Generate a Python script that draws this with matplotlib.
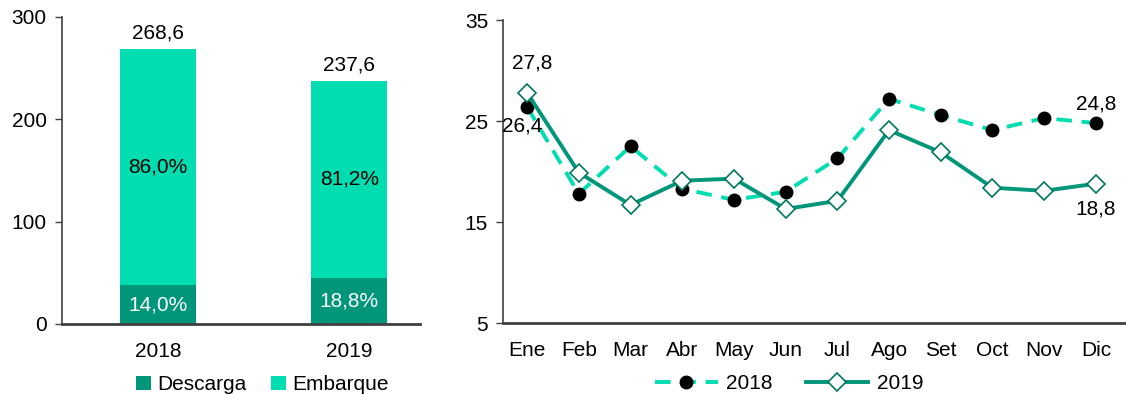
import numpy as np
import matplotlib.pyplot as plt

plt.rcParams['font.family'] = ['Liberation Sans', 'DejaVu Sans']
plt.rcParams['font.size'] = 15

# stacked bars: totals and share of each operation
years = ['2018', '2019']
totals = [268.6, 237.6]
pct_descarga = [14.0, 18.8]
pct_embarque = [86.0, 81.2]

# monthly series
months = ['Ene', 'Feb', 'Mar', 'Abr', 'May', 'Jun', 'Jul', 'Ago', 'Set', 'Oct', 'Nov', 'Dic']
serie_2018 = [26.4, 17.8, 22.5, 18.3, 17.2, 18.0, 21.3, 27.2, 25.6, 24.1, 25.3, 24.8]
serie_2019 = [27.8, 19.9, 16.7, 19.1, 19.3, 16.3, 17.1, 24.1, 21.9, 18.4, 18.1, 18.8]

c_emb = '#00DDB0'
c_desc = '#00967A'
c_axis = '#404040'

def fmt(v, d=1):
    return f'{v:.{d}f}'.replace('.', ',')

fig = plt.figure(figsize=(11.26, 3.94), dpi=100)
ax1 = fig.add_axes([0.055, 0.178, 0.318, 0.779])
ax2 = fig.add_axes([0.447, 0.180, 0.552, 0.769])

# --- left: stacked bars
x = np.arange(len(years))
descarga = [t * p / 100 for t, p in zip(totals, pct_descarga)]
embarque = [t - d for t, d in zip(totals, descarga)]
ax1.bar(x, descarga, width=0.40, color=c_desc, label='Descarga')
ax1.bar(x, embarque, width=0.40, bottom=descarga, color=c_emb, label='Embarque')
for i in range(len(years)):
    ax1.text(x[i], totals[i] + 6, fmt(totals[i]), ha='center', va='bottom')
    ax1.text(x[i], descarga[i] + embarque[i] / 2, fmt(pct_embarque[i]) + '%',
             ha='center', va='center', color='black')
    ax1.text(x[i], descarga[i] / 2, fmt(pct_descarga[i]) + '%',
             ha='center', va='center', color='white')
ax1.set_ylim(0, 300)
ax1.set_yticks([0, 100, 200, 300])
ax1.set_xlim(-0.503, 1.37)
ax1.set_xticks(x)
ax1.set_xticklabels(years)
ax1.tick_params(axis='x', length=0, pad=13)
ax1.tick_params(axis='y', length=5, width=1, color=c_axis, pad=6)
ax1.legend(loc='upper center', bbox_to_anchor=(0.56, -0.14), ncol=2, frameon=False,
           handlelength=0.7, handleheight=0.7, handletextpad=0.3, columnspacing=1.2,
           borderaxespad=0)

# --- right: monthly lines
xm = np.arange(len(months))
ax2.plot(xm, serie_2018, color=c_emb, lw=2.8, ls=(0, (4, 2.5)), marker='o', ms=9,
         mfc='black', mec='black', label='2018', zorder=2)
ax2.plot(xm, serie_2019, color=c_desc, lw=2.8, marker='D', ms=9, mfc='white',
         mec='#00785F', mew=1.2, label='2019', zorder=3)
ax2.text(xm[0] + 0.1, serie_2019[0] + 2.0, fmt(serie_2019[0]), ha='center', va='bottom')
ax2.text(xm[0] - 0.1, serie_2018[0] - 0.9, fmt(serie_2018[0]), ha='center', va='top')
ax2.text(xm[-1], serie_2018[-1] + 1.0, fmt(serie_2018[-1]), ha='center', va='bottom')
ax2.text(xm[-1], serie_2019[-1] - 1.6, fmt(serie_2019[-1]), ha='center', va='top')
ax2.set_ylim(5, 35)
ax2.set_yticks([5, 15, 25, 35])
ax2.set_xlim(-0.46, 11.56)
ax2.set_xticks(xm)
ax2.set_xticklabels(months)
ax2.tick_params(axis='x', length=0, pad=13)
ax2.tick_params(axis='y', length=5, width=1, color=c_axis, pad=6)
ax2.legend(loc='upper center', bbox_to_anchor=(0.46, -0.14), ncol=2, frameon=False,
           handlelength=3.0, handletextpad=0.4, columnspacing=1.6, borderaxespad=0)

for ax in (ax1, ax2):
    for s in ('top', 'right'):
        ax.spines[s].set_visible(False)
    ax.spines['left'].set_color(c_axis)
    ax.spines['bottom'].set_color(c_axis)
    ax.spines['left'].set_linewidth(1.2)
    ax.spines['bottom'].set_linewidth(2)

fig.savefig('out.png', dpi=100)
